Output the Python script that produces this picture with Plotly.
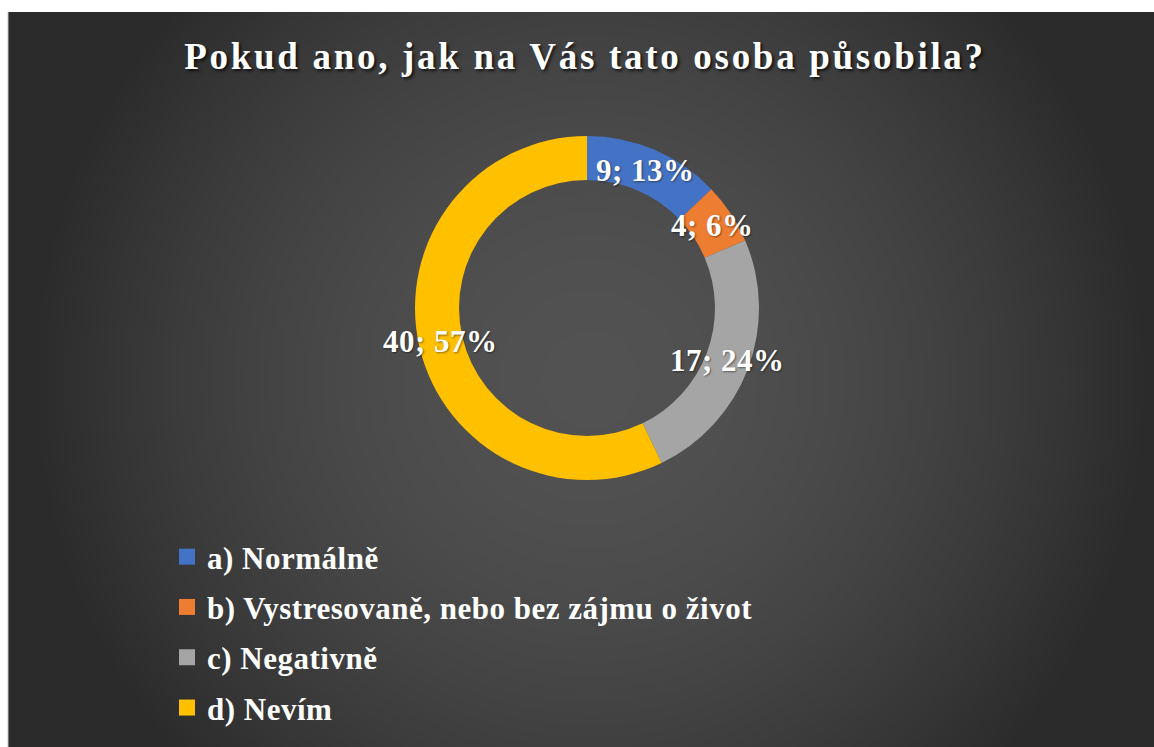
import numpy as np
import plotly.graph_objects as go

# ---- data ----
categories = ["a) Normálně", "b) Vystresovaně, nebo bez zájmu o život", "c) Negativně", "d) Nevím"]
counts = [9, 4, 17, 40]
colors = ["#4472C4", "#ED7D31", "#A5A5A5", "#FFC000"]
title_text = "Pokud ano, jak na Vás tato osoba působila?"

# ---- geometry (screen pixels; body margin removed) ----
W, H = 1154, 747
ML, MT = 8, 12
SX0, SY0 = ML, MT
PW, PH = W - ML, H - MT
CX, CY = 587 - SX0, 308 - SY0
R_OUT = 172
HOLE = 0.744
R_MID = R_OUT * (1 + HOLE) / 2

def px_to_paper(x, y):
    return x / PW, 1 - y / PH

fig = go.Figure()

# ---- radial background gradient ----
gx = np.linspace(0, PW, 90)
gy = np.linspace(0, PH, 60)
XX, YY = np.meshgrid(gx, gy)
d = np.hypot(XX - (590 - SX0), YY - (380 - SY0))
bright = np.maximum(43, 82 - 37 * (d / 540) ** 1.8)
fig.add_trace(go.Heatmap(
    x=gx, y=gy, z=bright, zmin=0, zmax=255,
    colorscale=[[0, "rgb(0,0,0)"], [1, "rgb(255,255,255)"]],
    zsmooth="best", showscale=False, hoverinfo="skip",
))

# ---- donut ----
x0, y0 = px_to_paper(CX - R_OUT, CY + R_OUT)
x1, y1 = px_to_paper(CX + R_OUT, CY - R_OUT)
fig.add_trace(go.Pie(
    labels=categories, values=counts, hole=HOLE, sort=False,
    direction="clockwise", rotation=0,
    marker=dict(colors=colors, line=dict(width=0)),
    textinfo="none", showlegend=False, hoverinfo="label+value+percent",
    domain=dict(x=[x0, x1], y=[y0, y1]),
))

# ---- data labels at mid ring ----
total = sum(counts)
cum = 0
for c in counts:
    mid = (cum + c / 2) / total * 2 * np.pi
    cum += c
    lx = CX + R_MID * np.sin(mid)
    ly = CY - R_MID * np.cos(mid)
    ax, ay = px_to_paper(lx, ly)
    pct = round(100 * c / total)
    fig.add_annotation(
        x=ax, y=ay, xref="paper", yref="paper", showarrow=False,
        text=f'<span style="letter-spacing:0.5px">{c}; {pct}%</span>',
        font=dict(family="Liberation Serif", size=31, color="white", weight="bold",
                  shadow="1px 1px 2px rgba(0,0,0,0.45)"),
        xanchor="center", yanchor="middle",
    )

# ---- legend entries ----
for name, col in zip(categories, colors):
    fig.add_trace(go.Scatter(
        x=[None], y=[None], mode="markers", legendgroup=name,
        name=f'<span style="letter-spacing:0.5px">{name}</span>',
        marker=dict(symbol="square", size=16, color=col),
    ))

# thin light border on the left edge of the chart area
fig.add_shape(type="line", xref="paper", yref="paper", x0=0, x1=0, y0=0, y1=1,
              line=dict(color="#bfbfbf", width=1))

fig.update_layout(
    width=W, height=H,
    margin=dict(l=ML, r=0, t=MT, b=0, pad=0),
    paper_bgcolor="white", plot_bgcolor="#3a3a3a",
    xaxis=dict(range=[0, PW], visible=False, fixedrange=True),
    yaxis=dict(range=[PH, 0], visible=False, fixedrange=True),
    title=dict(
        text=f'<span style="letter-spacing:2.7px">{title_text}</span>',
        x=585 / W, xanchor="center", y=1 - 56 / H, yanchor="middle",
        font=dict(family="Liberation Serif", size=37, color="white", weight="bold",
                  shadow="2px 2px 3px rgba(0,0,0,0.7)"),
    ),
    legend=dict(
        x=(167 - SX0) / PW, xanchor="left", y=1 - (530 - SY0) / PH, yanchor="top",
        bgcolor="rgba(0,0,0,0)", tracegroupgap=7, itemwidth=30,
        font=dict(family="Liberation Serif", size=31, color="white", weight="bold"),
    ),
    showlegend=True,
)

fig.write_html("out.html",
               config={"displayModeBar": False},
               post_script="document.documentElement.style.overflow='hidden';"
                           "document.body.style.overflow='hidden';"
                           "document.body.style.margin='0';")
